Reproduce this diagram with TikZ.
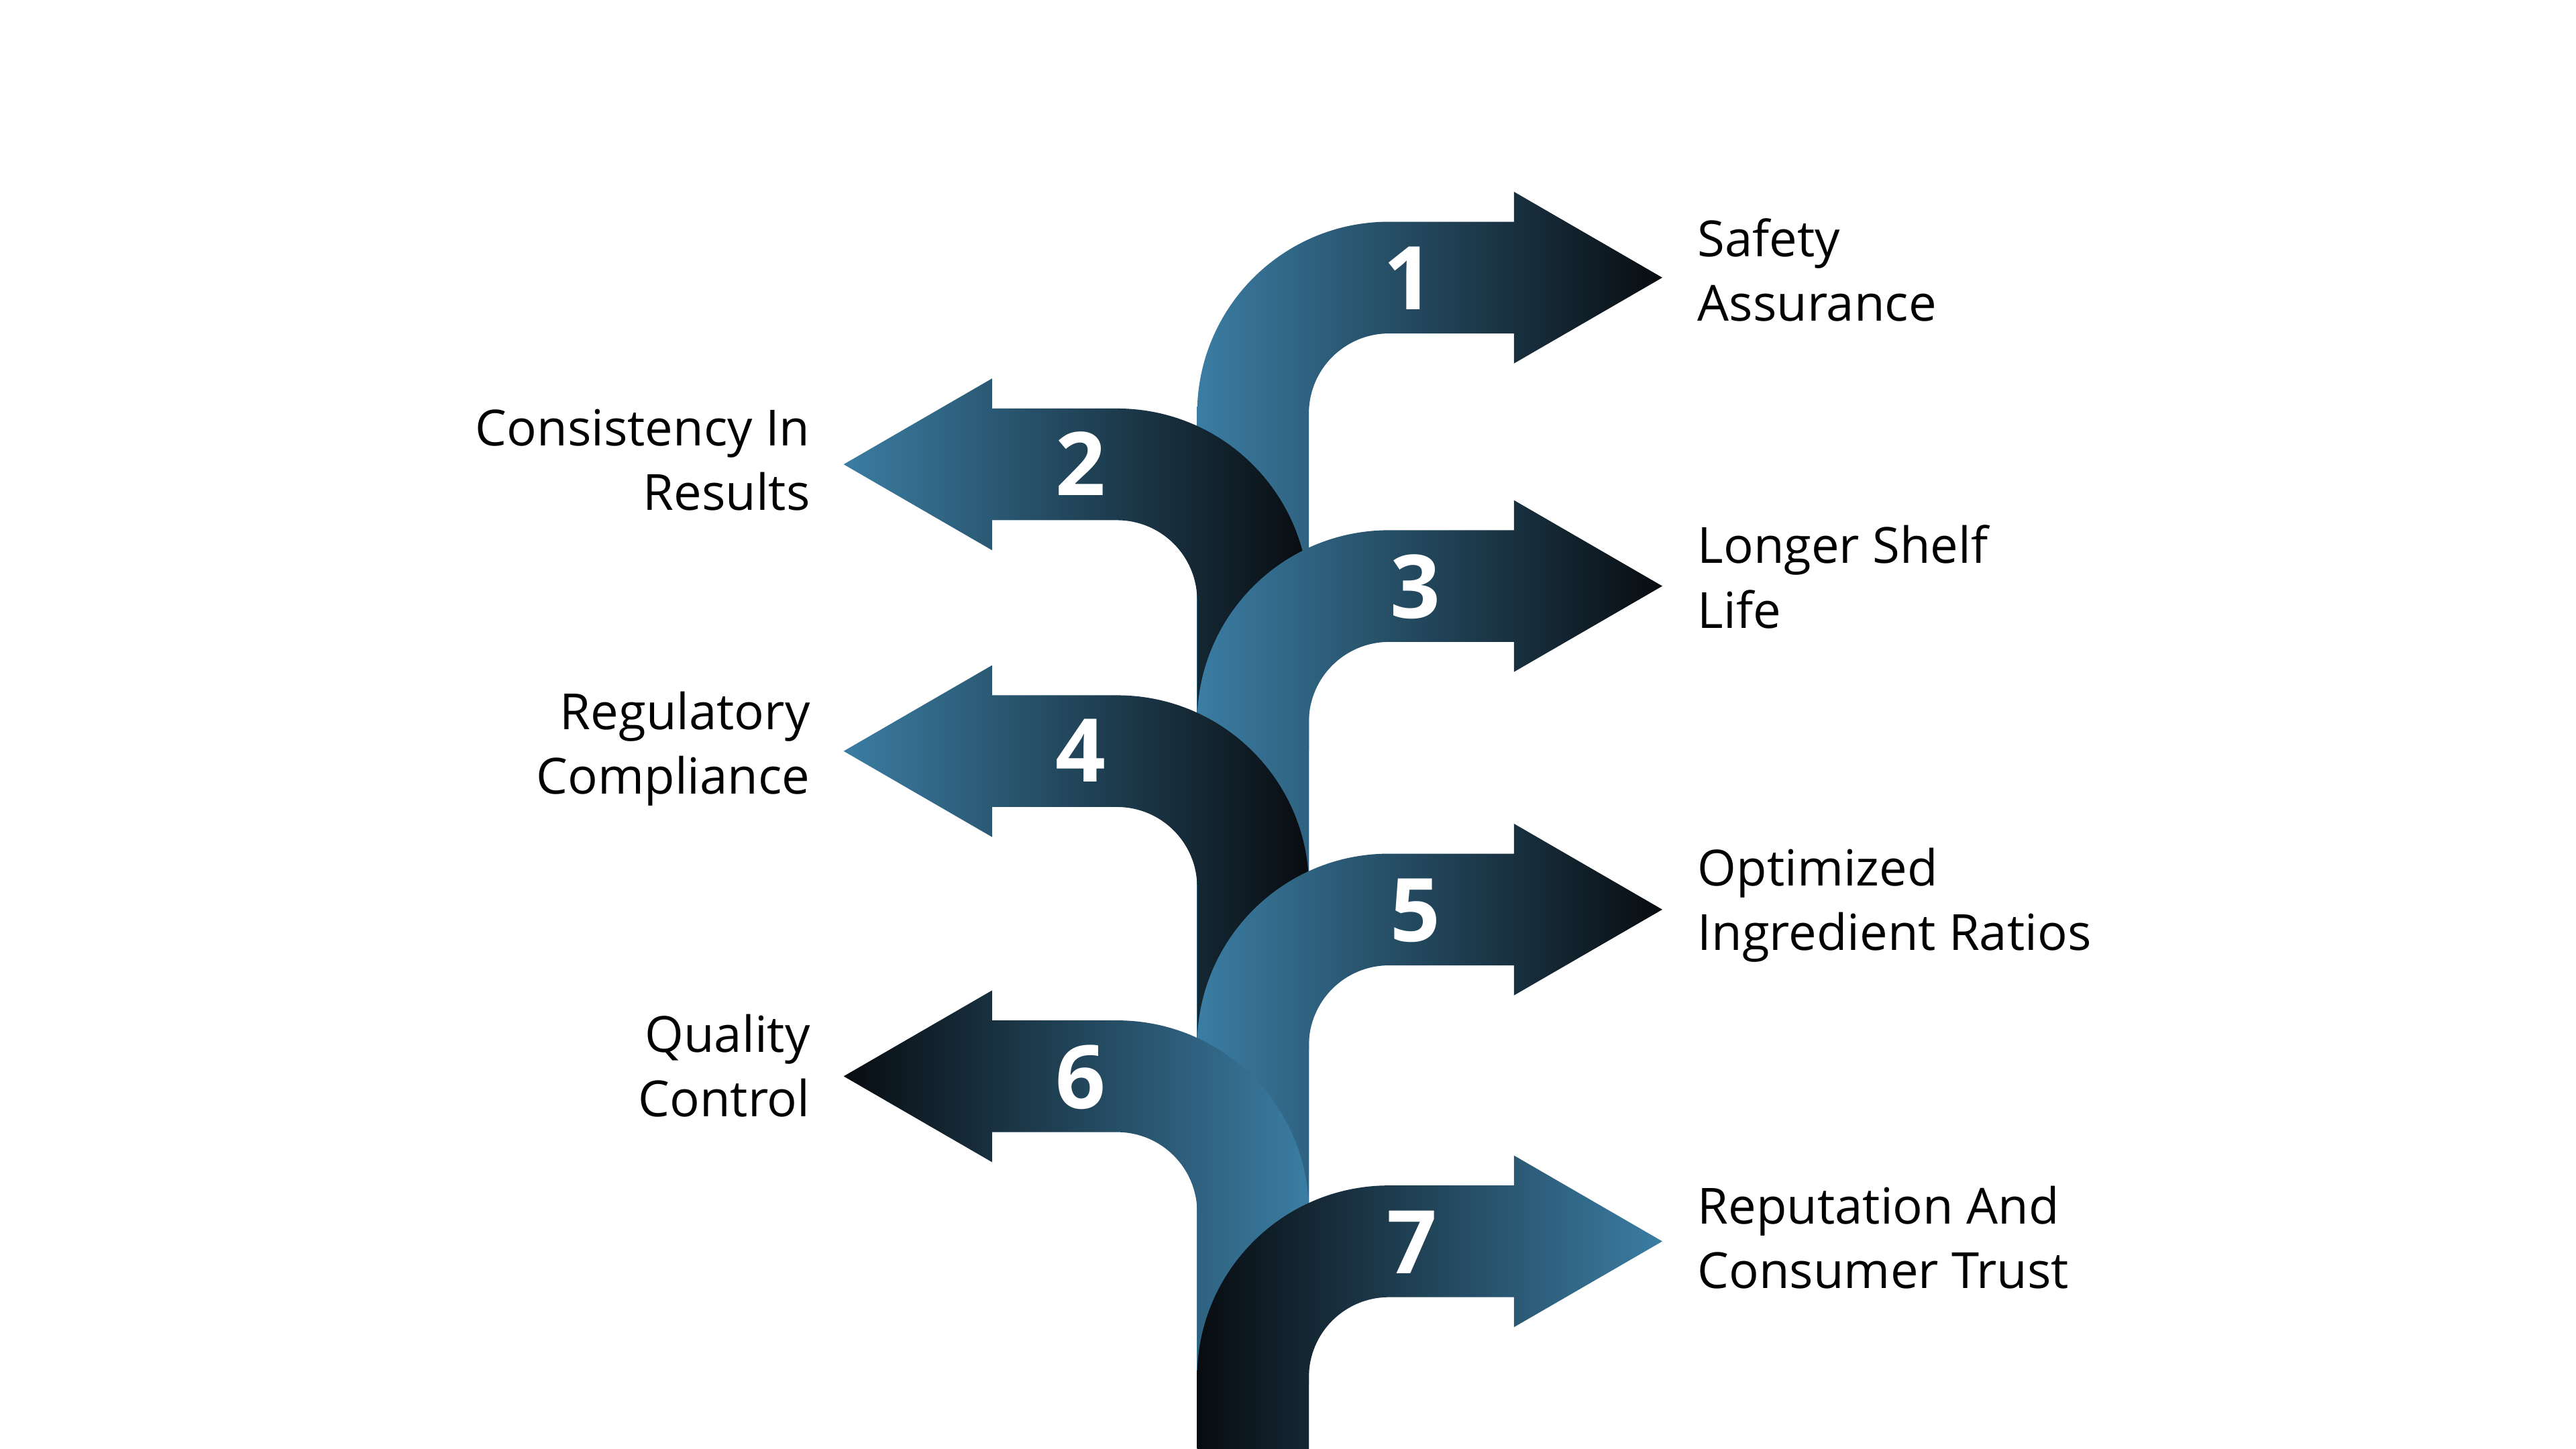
\documentclass[tikz,border=0pt]{standalone}
\usepackage{fontspec}
\setmainfont{Open Sans}
\definecolor{tealblue}{HTML}{3B7DA3}
\definecolor{nearblack}{HTML}{080C10}
% right-pointing bent arrow: #1 band top, #2 stem bottom, #3 left colour, #4 right colour
\newcommand{\rightbend}[4]{%
  \shade[left color=#3, right color=#4] (718,#2) -- (718,#1+115) arc(180:270:115)
    -- (908,#1) -- (908,#1-18) -- (997,#1+33.5) -- (908,#1+85) -- (908,#1+67)
    -- (833,#1+67) arc(270:180:48) -- (785,#2) -- cycle;}
% left-pointing bent arrow
\newcommand{\leftbend}[4]{%
  \shade[left color=#3, right color=#4] (785,#2) -- (785,#1+115) arc(0:-90:115)
    -- (595,#1) -- (595,#1-18) -- (506,#1+33.5) -- (595,#1+85) -- (595,#1+67)
    -- (670,#1+67) arc(270:360:48) -- (718,#2) -- cycle;}
\begin{document}
\begin{tikzpicture}[x=0.02cm, y=-0.02cm,
  num/.style = {text=white, font=\fontsize{30}{30}\selectfont\bfseries},
  rlabel/.style = {anchor=west, align=left, font=\fontsize{17}{22}\selectfont},
  llabel/.style = {anchor=east, align=right, font=\fontsize{17}{22}\selectfont}]

\useasboundingbox (0,0) rectangle (1545,869);

% Arrows
\rightbend{133}{450}{tealblue}{nearblack}
\leftbend{245}{540}{tealblue}{nearblack}
\rightbend{318}{630}{tealblue}{nearblack}
\leftbend{417}{740}{tealblue}{nearblack}
\rightbend{512}{830}{tealblue}{nearblack}
\leftbend{612}{869}{nearblack}{tealblue}
\rightbend{711}{869}{nearblack}{tealblue}

% Numbers
\node[num] (n1) at (845,167) {1};
\node[num] (n2) at (648,278) {2};
\node[num] (n3) at (849,352) {3};
\node[num] (n4) at (648,450) {4};
\node[num] (n5) at (849,546) {5};
\node[num] (n6) at (648,646) {6};
\node[num] (n7) at (847,745) {7};

% Labels
\node[rlabel] (l1) at (1012,162) {Safety\\Assurance};
\node[llabel] (l2) at (492,276) {Consistency In\\Results};
\node[rlabel] (l3) at (1012,346) {Longer Shelf\\Life};
\node[llabel] (l4) at (492,449) {Regulatory\\Compliance};
\node[rlabel] (l5) at (1012,543) {Optimized\\Ingredient Ratios};
\node[llabel] (l6) at (492,639) {Quality\\Control};
\node[rlabel] (l7) at (1012,742) {Reputation And\\Consumer Trust};

\end{tikzpicture}
\end{document}
